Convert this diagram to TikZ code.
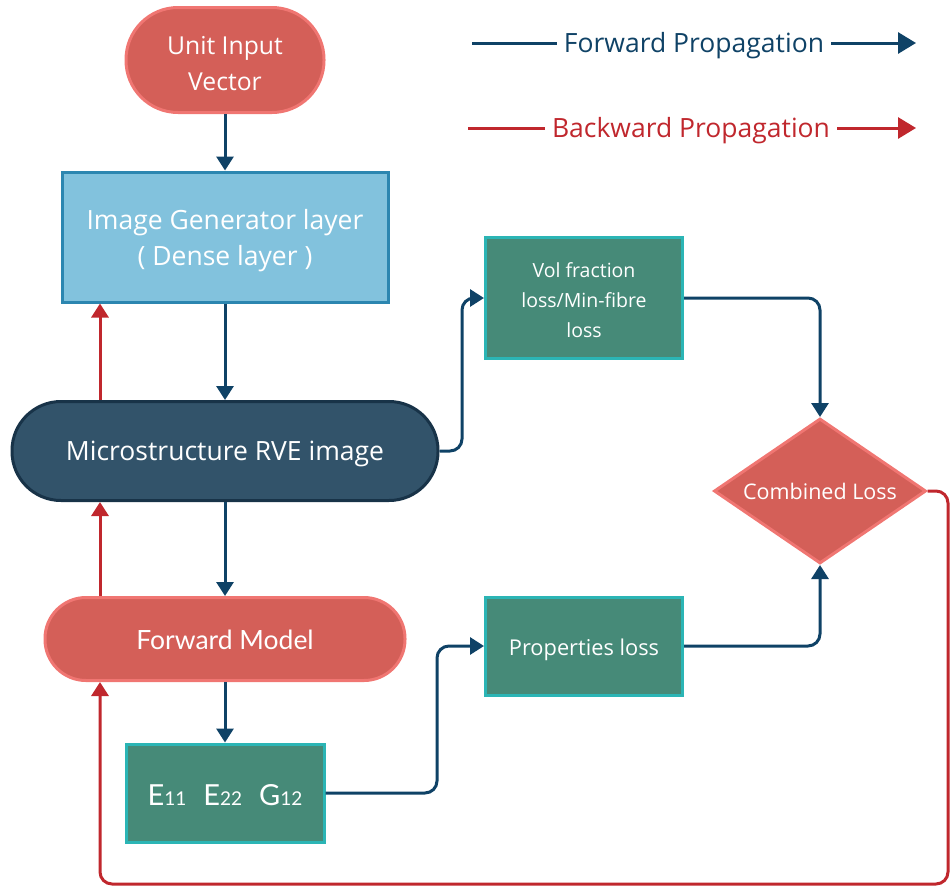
\documentclass[tikz,border=0pt]{standalone}
\usepackage{fontspec}
\setmainfont{Open Sans}
\newfontfamily\latofont{Lato}
\usetikzlibrary{arrows.meta,shapes.geometric,calc}
\definecolor{redfill}{HTML}{D45F58}
\definecolor{redline}{HTML}{F07672}
\definecolor{bluefill}{HTML}{82C2DD}
\definecolor{blueline}{HTML}{2C86B0}
\definecolor{darkfill}{HTML}{32536A}
\definecolor{darkline}{HTML}{183348}
\definecolor{greenfill}{HTML}{468A78}
\definecolor{greenline}{HTML}{2BB5B5}
\definecolor{fwdcol}{HTML}{0F4266}
\definecolor{bwdcol}{HTML}{C0272D}
\newcommand{\dn}[2]{\raisebox{-#1}[\height][\depth]{#2}}
\tikzset{
  base/.style={inner sep=0pt, line width=3pt, text=white, align=center},
  redpill/.style={base, fill=redfill, draw=redline},
  bluebox/.style={base, fill=bluefill, draw=blueline},
  darkpill/.style={base, fill=darkfill, draw=darkline},
  greenbox/.style={base, fill=greenfill, draw=greenline},
  fwd/.style={draw=fwdcol, line width=3pt, rounded corners=12pt, -{Triangle[width=17pt,length=14pt]}},
  fwdplain/.style={draw=fwdcol, line width=3pt, rounded corners=12pt},
  bwd/.style={draw=bwdcol, line width=3pt, rounded corners=12pt, -{Triangle[width=17pt,length=14pt]}},
  bwdplain/.style={draw=bwdcol, line width=3pt},
  legtip/.style={-{Triangle[width=21pt,length=18pt]}},
}
\begin{document}
\begin{tikzpicture}[x=1pt,y=-1pt]
\useasboundingbox (0,0) rectangle (952,886);
% nodes
\node[redpill, minimum width=198pt, minimum height=105pt, rounded corners=52pt, font=\fontsize{24.7}{36}\selectfont] (U) at (225,60) {\dn{3.5pt}{Unit Input}\\\dn{3.5pt}{Vector}};
\node[bluebox, minimum width=326pt, minimum height=130pt, font=\fontsize{26.5}{36}\selectfont] (G) at (225,237) {\dn{3.5pt}{Image Generator layer}\\\dn{3.5pt}{( Dense layer )}};
\node[darkpill, minimum width=426pt, minimum height=99pt, rounded corners=49pt, font=\fontsize{26.5}{30}\selectfont] (M) at (225,451) {\dn{3pt}{Microstructure RVE image}};
\node[redpill, minimum width=360pt, minimum height=83pt, rounded corners=41pt, font=\latofont\fontsize{26.5}{30}\selectfont] (F) at (225,639) {\dn{1pt}{Forward Model}};
\node[greenbox, minimum width=198pt, minimum height=98pt, font=\latofont\fontsize{29}{30}\selectfont] (E) at (225,793) {\dn{2pt}{E{\fontsize{19}{20}\selectfont 11}\hspace{17pt}E{\fontsize{19}{20}\selectfont 22}\hspace{17pt}G{\fontsize{19}{20}\selectfont 12}}};
\node[greenbox, minimum width=197pt, minimum height=121pt, font=\fontsize{19.5}{30}\selectfont] (V) at (584,298) {\dn{2pt}{Vol fraction}\\\dn{2pt}{loss/Min-fibre}\\\dn{2pt}{loss}};
\node[greenbox, minimum width=197pt, minimum height=98pt, font=\fontsize{21.8}{24}\selectfont] (P) at (584,646) {\dn{4pt}{Properties loss}};
\node[diamond, base, fill=redfill, draw=redline, aspect=1.46, minimum width=212pt, minimum height=145pt, font=\fontsize{21.5}{24}\selectfont] (D) at (820,491) {Combined Loss};
% legend
\node[text=fwdcol, inner sep=7pt, font=\fontsize{26.5}{28}\selectfont] (lf) at (694,43) {\dn{3pt}{Forward Propagation}};
\node[text=bwdcol, inner sep=7pt, font=\fontsize{26.5}{28}\selectfont] (lb) at (691,128) {\dn{3pt}{Backward Propagation}};
\coordinate (lf0) at (472,43);
\coordinate (lf1) at (916,43);
\coordinate (lb0) at (468,128);
\coordinate (lb1) at (916,128);
\draw[fwdplain] (lf0) -- (lf.west);
\draw[fwd, legtip] (lf.east) -- (lf1);
\draw[bwdplain] (lb0) -- (lb.west);
\draw[bwd, legtip] (lb.east) -- (lb1);
% bend coordinates
\coordinate (xa) at (462,0);
\coordinate (xb) at (437,0);
\coordinate (xr) at (100,0);
\coordinate (rc) at (948,884);
% forward connectors
\draw[fwd] (U.south) -- (G.north);
\draw[fwd] (G.south) -- (M.north);
\draw[fwd] (M.south) -- (F.north);
\draw[fwd] (F.south) -- (E.north);
\draw[fwd] (M.east) -| (xa |- V.west) -- (V.west);
\draw[fwd] (E.east) -| (xb |- P.west) -- (P.west);
\draw[fwd] (V.east) -| (D.north);
\draw[fwd] (P.east) -| (D.south);
% backward connectors
\draw[bwd] (M.north -| xr) -- (G.south -| xr);
\draw[bwd] (F.north -| xr) -- (M.south -| xr);
\draw[bwd] (D.east) -| (rc) -| (xr |- F.south);
\end{tikzpicture}
\end{document}
